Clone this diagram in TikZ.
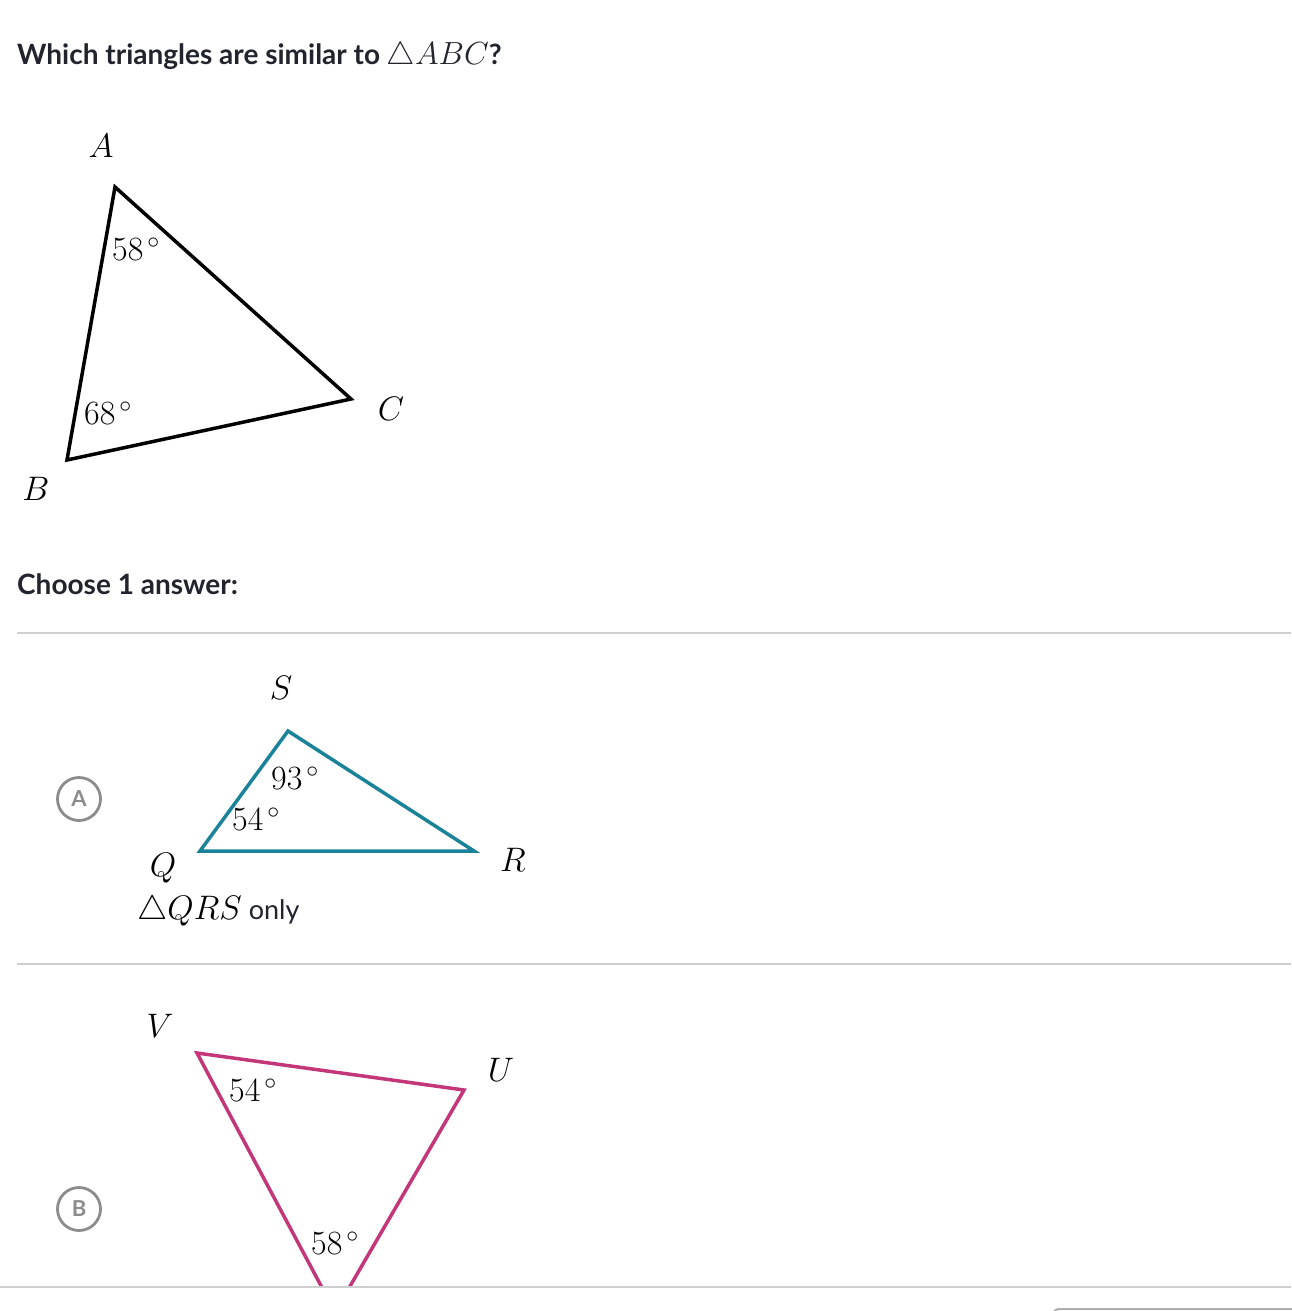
\RequirePackage{fix-cm}
\documentclass[tikz,border=0pt]{standalone}
\usepackage[no-math]{fontspec}
\setmainfont{Lato}
\usepackage{tikz}
\usetikzlibrary{positioning,calc}
\usepackage{xcolor}

\definecolor{inkdark}{HTML}{21242C}
\definecolor{tealline}{HTML}{1A8299}
\definecolor{pinkline}{HTML}{C4367A}
\definecolor{rulegray}{HTML}{CFCFCF}
\definecolor{choicegray}{HTML}{8C8C8C}

\newcommand{\mathsz}{\fontsize{34}{40}\selectfont}
\newcommand{\headsz}{\fontsize{28}{33}\selectfont}
\newcommand{\dg}{^{\,\circ}}

\tikzset{
  tri/.style={line width=3.5pt, line join=miter},
  lbl/.style={font=\mathsz, inner sep=0pt},
  ang/.style={font=\mathsz, inner sep=0pt},
  sep/.style={rulegray, line width=1.6pt},
  choice/.style={circle, draw=choicegray, line width=2.8pt, minimum size=43pt,
    inner sep=0pt, text=choicegray, font=\fontsize{22}{26}\selectfont\bfseries},
}

\begin{document}
\begin{tikzpicture}[x=1pt, y=-1pt]
  \useasboundingbox (0,0) rectangle (1291,1311);
  % Question
  \node[anchor=base west, inner sep=0pt, text=inkdark, font=\headsz\bfseries] (title)
    at (17,65) {Which triangles are similar to {\fontsize{32}{38}\selectfont$\triangle ABC$}?};

  % Triangle ABC
  \coordinate (A) at (115,187);
  \coordinate (B) at (67,460);
  \coordinate (C) at (351,399);
  \draw[tri] (A) -- (B) -- (C) -- cycle;
  \node[lbl] (labA) at (101,146) {$A$};
  \node[lbl] (labB) at (36,489) {$B$};
  \node[lbl] (labC) at (391,409) {$C$};
  \node[ang] (angA) at (136,249) {$58\dg$};
  \node[ang] (angB) at (108,413) {$68\dg$};

  \node[anchor=base west, inner sep=0pt, text=inkdark, font=\headsz\bfseries] (choose)
    at (17,594) {Choose 1 answer:};

  % Option A
  \coordinate (s1l) at (17,633);
  \coordinate (s1r) at (1291,633);
  \draw[sep] (s1l) -- (s1r);
  \node[choice] (optA) at (79,799) {A};
  \coordinate (Q) at (200,851);
  \coordinate (R) at (474,851);
  \coordinate (S) at (288,731);
  \draw[tri, tealline] (Q) -- (R) -- (S) -- cycle;
  \node[lbl] (labS) at (281,688) {$S$};
  \node[lbl] (labQ) at (163,868) {$Q$};
  \node[lbl] (labR) at (513,860) {$R$};
  \node[ang] (angS) at (295,778) {$93\dg$};
  \node[ang] (angQ) at (256,819) {$54\dg$};
  \node[anchor=base west, inner sep=0pt] (ansA) at (137,919)
    {{\mathsz$\triangle QRS$}\hspace{7pt}{\fontsize{27}{32}\selectfont\color{inkdark}only}};

  % Option B
  \coordinate (s2l) at (17,964);
  \coordinate (s2r) at (1291,964);
  \draw[sep] (s2l) -- (s2r);
  \node[choice] (optB) at (79,1209) {B};
  \coordinate (V) at (197,1053);
  \coordinate (U) at (464,1090);
  \coordinate (W) at (335,1312);
  \begin{scope}
    \clip (0,0) rectangle (1291,1286);
    \draw[tri, pinkline] (V) -- (U) -- (W) -- cycle;
  \end{scope}
  \node[lbl] (labV) at (160,1026) {$V$};
  \node[lbl] (labU) at (501,1070) {$U$};
  \node[ang] (angV) at (253,1090) {$54\dg$};
  \node[ang] (angW) at (335,1243) {$58\dg$};

  % page foot
  \coordinate (s3l) at (0,1287);
  \coordinate (s3r) at (1291,1287);
  \draw[sep] (s3l) -- (s3r);
  \draw[choicegray!70, line width=2pt, rounded corners=6pt] (1053,1330) -- (1053,1309) -- (1300,1309);
\end{tikzpicture}
\end{document}
